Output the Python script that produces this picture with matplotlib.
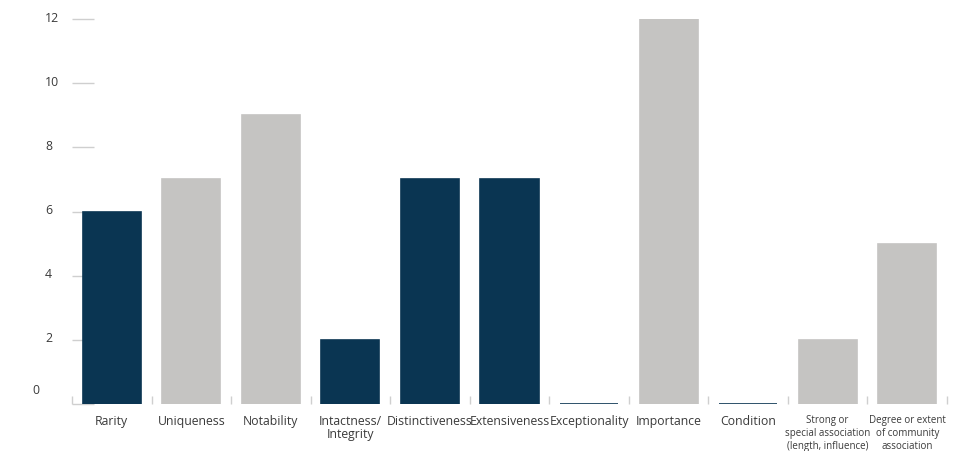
import matplotlib
matplotlib.use("Agg")
import matplotlib.pyplot as plt
from matplotlib.transforms import offset_copy

categories = ["Rarity", "Uniqueness", "Notability", "Intactness/\nIntegrity",
              "Distinctiveness", "Extensiveness", "Exceptionality", "Importance",
              "Condition", "Strong or\nspecial association\n(length, influence)",
              "Degree or extent\nof community\nassociation"]
values = [6, 7, 9, 2, 7, 7, 0, 12, 0, 2, 5]
groups = ["A", "B", "B", "A", "A", "A", "A", "B", "A", "B", "B"]
y_ticks = [0, 2, 4, 6, 8, 10, 12]

NAVY = "#0a3552"
GRAY = "#c5c4c2"
TICK = "#cfcfcf"
TEXT = "#3a3a3a"
colors = [NAVY if g == "A" else GRAY for g in groups]

plt.rcParams["font.family"] = ["Open Sans", "DejaVu Sans"]

fig = plt.figure(figsize=(9.76, 4.52), dpi=100)
ax = fig.add_axes([72 / 976, 1 - 405 / 452, 875 / 976, 385 / 452])

x = list(range(len(categories)))
ax.bar(x, values, width=0.73, color=colors, edgecolor=colors, linewidth=1.2)

ax.set_xlim(-0.5, len(categories) - 0.5)
ax.set_ylim(0, 12)
ax.set_axisbelow(True)
for s in ax.spines.values():
    s.set_visible(False)

# y ticks: short light lines inside, custom labels
ax.set_yticks(y_ticks)
ax.set_yticklabels([])
ax.tick_params(axis="y", direction="in", length=15.5, width=1, color=TICK)
for t in y_ticks:
    if t == 0:
        tr = offset_copy(ax.get_yaxis_transform(), fig=fig, x=-40 * 0.72, y=14 * 0.72, units="points")
    else:
        tr = offset_copy(ax.get_yaxis_transform(), fig=fig, x=-27 * 0.72, y=2 * 0.72, units="points")
    ax.text(0, t, str(t), transform=tr, ha="left", va="center", fontsize=8.8, color=TEXT)

# x: boundary ticks (major), labels at centers (minor)
ax.set_xticks([i - 0.5 for i in range(len(categories) + 1)])
ax.set_xticklabels([])
ax.tick_params(axis="x", which="major", direction="in", length=6, width=1, color=TICK)
ax.set_xticks(x, minor=True)
ax.set_xticklabels(categories, minor=True, color=TEXT, fontsize=8.8, linespacing=1.05, va="top")
ax.tick_params(axis="x", which="minor", length=0, pad=7)
for lbl in ax.get_xticklabels(minor=True):
    if lbl.get_text().count("\n") == 2:
        lbl.set_fontsize(7.0)
        lbl.set_linespacing(1.25)
        lbl.set_y(lbl.get_position()[1])

fig.savefig("out.png", dpi=100)
